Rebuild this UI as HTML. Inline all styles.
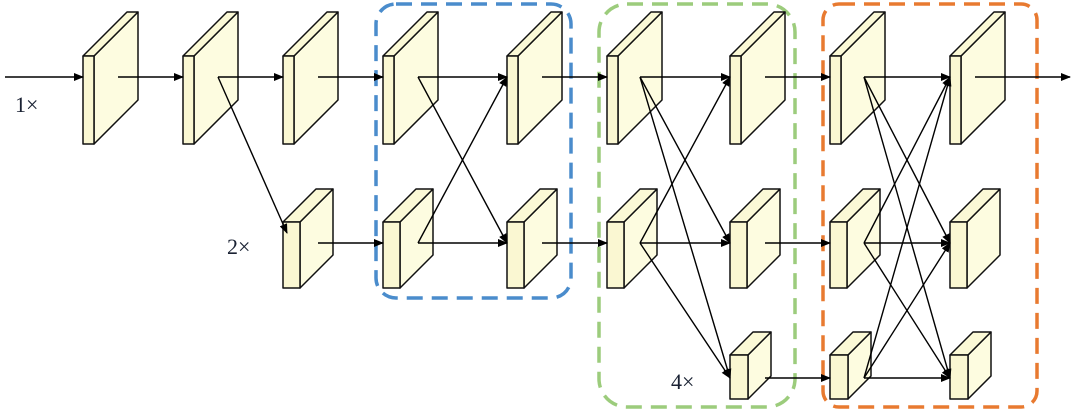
<!DOCTYPE html>
<html><head><meta charset="utf-8"><style>
html,body{margin:0;padding:0;background:#fff;width:1078px;height:418px;overflow:hidden}
svg{display:block}
text{font-family:"Liberation Serif",serif;font-size:22px;fill:#1a2233}
</style></head><body>
<svg id="s" width="1078" height="418" viewBox="0 0 1078 418" xmlns="http://www.w3.org/2000/svg">
<defs><marker id="a" markerWidth="10" markerHeight="8" refX="9" refY="4" orient="auto" markerUnits="userSpaceOnUse"><path d="M0,0 L10,4 L0,8 z" fill="#000"/></marker></defs>
<rect x="376" y="4" width="195" height="294" rx="20" fill="none" stroke="#4a8ccc" stroke-width="3.5" stroke-dasharray="16,9"/>
<rect x="599" y="4" width="196" height="403" rx="28" fill="none" stroke="#9ccc7c" stroke-width="3.5" stroke-dasharray="16,9"/>
<rect x="823" y="4" width="214" height="403" rx="16" fill="none" stroke="#e87a30" stroke-width="3.5" stroke-dasharray="16,9"/>
<g id="boxes"></g><g id="lines" stroke="#000" stroke-width="1.4" fill="none"></g>
<text x="15" y="112">1×</text>
<text x="227" y="254">2×</text>
<text x="671" y="389">4×</text>
</svg>
<script>
var ns="http://www.w3.org/2000/svg",B=document.getElementById("boxes"),L=document.getElementById("lines");
function el(p,t,a){var e=document.createElementNS(ns,t);for(var k in a)e.setAttribute(k,a[k]);p.appendChild(e);}
var T={w:11,h:88,d:44,y:56,c:77},M={w:17,h:66,d:33,y:222,c:243},S={w:18,h:44,d:23,y:355,c:378};
function box(x,t){var w=t.w,h=t.h,d=t.d,y=t.y,st={stroke:"#111","stroke-width":1.5,"stroke-linejoin":"round"};
el(B,"polygon",Object.assign({points:[x+w,y,x+w+d,y-d,x+w+d,y-d+h,x+w,y+h].join(","),fill:"#fdfce0"},st));
el(B,"polygon",Object.assign({points:[x,y,x+d,y-d,x+w+d,y-d,x+w,y].join(","),fill:"#fbf9d6"},st));
el(B,"rect",Object.assign({x:x,y:y,width:w,height:h,fill:"#faf7d2"},st));}
[83,183,283,383,507,607,730,830,950].forEach(function(x){box(x,T)});
[283,383,507,607,730,830,950].forEach(function(x){box(x,M)});
[730,830,950].forEach(function(x){box(x,S)});
function ar(x1,y1,x2,y2){el(L,"line",{x1:x1,y1:y1,x2:x2,y2:y2,"marker-end":"url(#a)"});}
ar(5,77,83,77);ar(118,77,183,77);ar(218,77,283,77);ar(318,77,383,77);ar(218,77,287,233);
ar(318,243,383,243);
[[418,77],[418,243]].forEach(function(p){ar(p[0],p[1],507,77);ar(p[0],p[1],507,243);});
ar(542,77,607,77);ar(542,243,607,243);
[[640,77],[640,243]].forEach(function(p){ar(p[0],p[1],730,77);ar(p[0],p[1],730,243);ar(p[0],p[1],730,378);});
ar(765,77,830,77);ar(765,243,830,243);ar(765,378,830,378);
[[864,77],[864,243],[864,378]].forEach(function(p){ar(p[0],p[1],950,77);ar(p[0],p[1],950,243);ar(p[0],p[1],950,378);});
ar(975,77,1070,77);
</script>
</body></html>
